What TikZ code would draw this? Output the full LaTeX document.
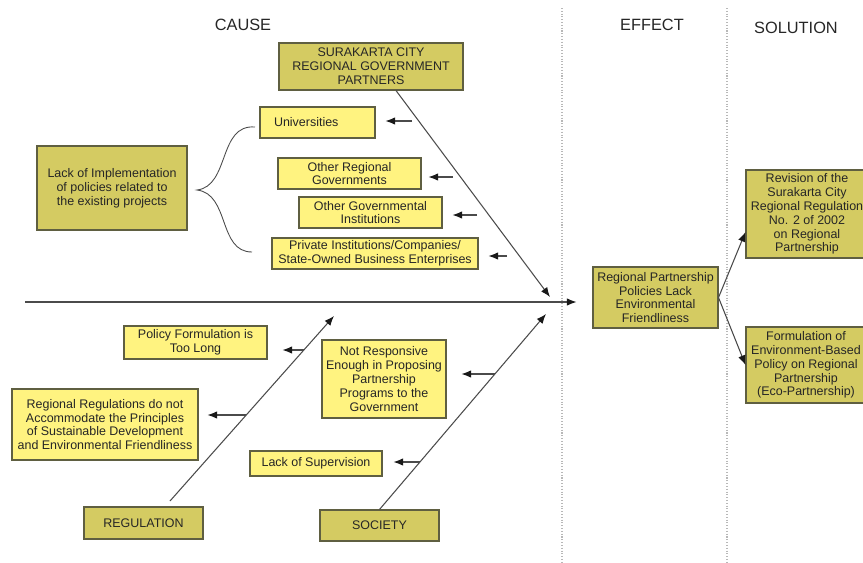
\documentclass[tikz,border=0pt]{standalone}
\usepackage{fontspec}
\setmainfont{Liberation Sans}
\usepackage{tikz}
\usetikzlibrary{arrows.meta,positioning,calc}
\definecolor{olivefill}{RGB}{212,203,98}
\definecolor{yellowfill}{RGB}{255,243,128}
\definecolor{boxline}{RGB}{95,95,65}
\definecolor{lineg}{RGB}{75,75,75}
\begin{document}
\begin{tikzpicture}[x=0.02cm,y=-0.02cm,
      box/.style={draw=boxline,line width=0.6pt,align=center,inner sep=1pt,
                  font=\fontsize{7.1}{7.9}\selectfont,text=black!85},
      olivebox/.style={box,fill=olivefill},
      yellowbox/.style={box,fill=yellowfill},
      head/.style={font=\fontsize{9.3}{11}\selectfont,text=black!85},
      arr/.style={-{Latex[length=5.5pt,width=4.3pt,color=black!90]},lineg,line width=0.6pt},
      sep/.style={densely dotted,black!28,line width=0.6pt}]
      \useasboundingbox (0,0) rectangle (863,562);
      % Column headings and separators
      \node[head] (hcause)  at (243,25) {CAUSE};
      \node[head] (heffect) at (652,25) {EFFECT};
      \node[head] (hsol)    at (796,28) {SOLUTION};
      \draw[sep] (562,8) -- (562,562);
      \draw[sep] (727,8) -- (727,562);

      % Main categories
      \node[olivebox,minimum width=3.68cm,minimum height=0.94cm] (sur) at (371,66.5)
            {SURAKARTA CITY\\REGIONAL GOVERNMENT\\PARTNERS};
      \node[olivebox,minimum width=2.38cm,minimum height=0.64cm] (reg) at (143.5,523) {REGULATION};
      \node[olivebox,minimum width=2.38cm,minimum height=0.62cm] (soc) at (379.5,525.5) {SOCIETY};
      \node[olivebox,minimum width=3.0cm,minimum height=1.68cm] (lack) at (112,188)
            {Lack of Implementation\\of policies related to\\the existing projects};

      % Partner causes
      \node[yellowbox,minimum width=2.3cm,minimum height=0.62cm,inner xsep=0.28cm,
            text width=1.74cm,align=left] (uni) at (317.5,122.5) {Universities};
      \node[yellowbox,minimum width=2.86cm,minimum height=0.62cm] (org) at (349.5,173.5)
            {Other Regional\\Governments};
      \node[yellowbox,minimum width=2.86cm,minimum height=0.62cm] (ogi) at (370.5,212.5)
            {Other Governmental\\Institutions};
      \node[yellowbox,minimum width=4.12cm,minimum height=0.62cm] (pri) at (375,253.5)
            {Private Institutions/Companies/\\State-Owned Business Enterprises};

      % Regulation and society causes
      \node[yellowbox,minimum width=2.86cm,minimum height=0.66cm] (pol) at (195.5,342.5)
            {Policy Formulation is\\Too Long};
      \node[yellowbox,minimum width=3.72cm,minimum height=1.42cm] (rr) at (105,424.5)
            {Regional Regulations do not\\Accommodate the Principles\\of Sustainable Development\\and Environmental Friendliness};
      \node[yellowbox,minimum width=2.48cm,minimum height=1.56cm] (nr) at (384,379)
            {Not Responsive\\Enough in Proposing\\Partnership\\Programs to the\\Government};
      \node[yellowbox,minimum width=2.64cm,minimum height=0.5cm] (sup) at (316,463.5)
            {Lack of Supervision};

      % Effect and solutions
      \node[olivebox,minimum width=2.5cm,minimum height=1.22cm] (eff) at (655.5,297.5)
            {Regional Partnership\\Policies Lack\\Environmental\\Friendliness};
      \node[olivebox,minimum width=2.44cm,minimum height=1.76cm] (rev) at (807,214)
            {Revision of the\\Surakarta City\\Regional Regulation\\No. 2 of 2002\\on Regional\\Partnership};
      \node[olivebox,minimum width=2.4cm,minimum height=1.52cm] (form) at (806,365)
            {Formulation of\\Environment-Based\\Policy on Regional\\Partnership\\(Eco-Partnership)};

      % Spine and bones
      \coordinate (tail) at (25,302);
      \coordinate (hd1) at (550,297);
      \coordinate (rt) at (170,501);
      \coordinate (hd2) at (334,316);
      \coordinate (hd3) at (546,314);
      \draw[arr,shorten >=0.32cm] (tail) -- (tail -| eff.west);
      \draw[arr] ([xshift=0.5cm]sur.south) -- (hd1);
      \draw[arr] (rt) -- (hd2);
      \draw[arr] (soc.north) -- (hd3);
      \draw[arr] (eff.east) -- ([yshift=-0.36cm]rev.west);
      \draw[arr] (eff.east) -- (form.west);

      % Brace
      \coordinate (bt) at (255,127);
      \coordinate (bm) at (197,190);
      \coordinate (bb) at (252,252);
      \draw[lineg,line width=0.5pt] (bt) .. controls (218,124) and (230,186) .. (bm)
            .. controls (230,194) and (218,252) .. (bb);

      % Small arrows
      \coordinate (a1) at (412,121);
      \coordinate (a2) at (453,177);
      \coordinate (a3) at (477,215);
      \coordinate (a4) at (507,256);
      \coordinate (a5) at (304,350);
      \coordinate (a6) at (246,415);
      \coordinate (a7) at (495,374);
      \coordinate (a8) at (420,462);
      \draw[arr,shorten >=0.2cm]  (a1) -- (a1 -| uni.east);
      \draw[arr,shorten >=0.14cm] (a2) -- (a2 -| org.east);
      \draw[arr,shorten >=0.2cm]  (a3) -- (a3 -| ogi.east);
      \draw[arr,shorten >=0.2cm]  (a4) -- (a4 -| pri.east);
      \draw[arr,shorten >=0.3cm]  (a5) -- (a5 -| pol.east);
      \draw[arr,shorten >=0.18cm] (a6) -- (a6 -| rr.east);
      \draw[arr,shorten >=0.3cm]  (a7) -- (a7 -| nr.east);
      \draw[arr,shorten >=0.22cm] (a8) -- (a8 -| sup.east);
    \end{tikzpicture}
\end{document}
